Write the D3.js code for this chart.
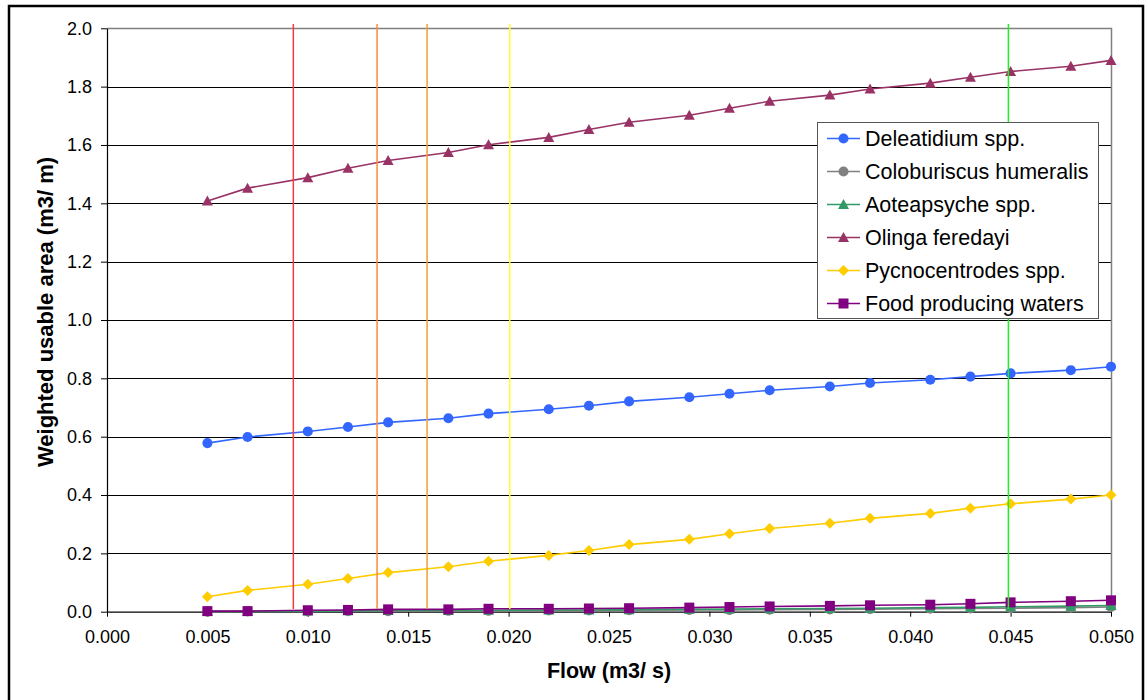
<!DOCTYPE html>
<html>
<head>
<meta charset="utf-8">
<script src="https://cdn.jsdelivr.net/npm/d3@7"></script>
<style>
  html, body { margin: 0; padding: 0; background: #fff; }
  svg { display: block; font-family: "Liberation Sans", Arial, sans-serif; }
</style>
</head>
<body>
<svg id="chart" width="1146" height="700"></svg>
<script>
// ---- Data ----
const flows = [0.005, 0.007, 0.010, 0.012, 0.014, 0.017, 0.019, 0.022, 0.024, 0.026,
               0.029, 0.031, 0.033, 0.036, 0.038, 0.041, 0.043, 0.045, 0.048, 0.050];
const seriesNames = ["Deleatidium spp.", "Coloburiscus humeralis", "Aoteapsyche spp.",
                     "Olinga feredayi", "Pycnocentrodes spp.", "Food producing waters"];
const deleatidium   = [0.578, 0.599, 0.618, 0.633, 0.649, 0.663, 0.679, 0.694, 0.706, 0.721,
                       0.735, 0.747, 0.759, 0.772, 0.784, 0.795, 0.806, 0.817, 0.828, 0.840];
const coloburiscus  = [0.000, 0.001, 0.001, 0.002, 0.002, 0.003, 0.003, 0.004, 0.004, 0.005,
                       0.006, 0.006, 0.007, 0.008, 0.009, 0.010, 0.011, 0.012, 0.014, 0.016];
const aoteapsyche   = [0.001, 0.001, 0.002, 0.003, 0.004, 0.004, 0.005, 0.006, 0.006, 0.007,
                       0.008, 0.009, 0.010, 0.011, 0.012, 0.014, 0.015, 0.017, 0.019, 0.021];
const olinga        = [1.408, 1.452, 1.488, 1.520, 1.547, 1.574, 1.601, 1.626, 1.653, 1.678,
                       1.702, 1.726, 1.750, 1.771, 1.792, 1.812, 1.832, 1.852, 1.870, 1.890];
const pycnocentrodes= [0.051, 0.073, 0.094, 0.114, 0.134, 0.154, 0.173, 0.193, 0.210, 0.230,
                       0.248, 0.267, 0.285, 0.303, 0.320, 0.337, 0.355, 0.370, 0.386, 0.400];
const foodWaters    = [0.002, 0.002, 0.005, 0.006, 0.008, 0.008, 0.010, 0.010, 0.011, 0.012,
                       0.014, 0.016, 0.018, 0.020, 0.022, 0.024, 0.027, 0.032, 0.036, 0.039];
const refFlows      = [0.00928, 0.01345, 0.01594, 0.02006, 0.04489];
const refLineRange  = [0.009, 2.015];
const xTicks = [0, 0.005, 0.010, 0.015, 0.020, 0.025, 0.030, 0.035, 0.040, 0.045, 0.050];
const yTicks = [0, 0.2, 0.4, 0.6, 0.8, 1.0, 1.2, 1.4, 1.6, 1.8, 2.0];
const xTitle = "Flow (m3/ s)";
const yTitle = "Weighted usable area (m3/ m)";

// ---- Styles ----
const colors  = ["#3366FF", "#808080", "#339966", "#993366", "#FFCC00", "#800080"];
const markers = ["circle", "circle", "triangle", "triangle", "diamond", "square"];
const refColors = ["#F43C3C", "#FF8838", "#F0A030", "#FFFF33", "#22EE22"];
const seriesValues = [deleatidium, coloburiscus, aoteapsyche, olinga, pycnocentrodes, foodWaters];

const svg = d3.select("#chart");
const L = 107, R = 1111, T = 28.3, B = 611.7;
const x = d3.scaleLinear().domain([0, 0.05]).range([L, R]);
const y = d3.scaleLinear().domain([0, 2]).range([B, T]);

// Outer frame
svg.append("rect").attr("x", 9).attr("y", 6).attr("width", 1134).attr("height", 700)
  .attr("fill", "#fff").attr("stroke", "#000").attr("stroke-width", 2.5);

// Gridlines
svg.append("g").selectAll("line").data(yTicks.filter(v => v > 0 && v < 2)).join("line")
  .attr("x1", L).attr("x2", R)
  .attr("y1", d => Math.round(y(d)) + 0.5).attr("y2", d => Math.round(y(d)) + 0.5)
  .attr("stroke", "#000").attr("stroke-width", 1);

// Plot border top & right (gray)
svg.append("path")
  .attr("d", `M${L},${Math.round(T)+0.5}H${Math.round(R)+0.5}V${B}`)
  .attr("fill", "none").attr("stroke", "#808080").attr("stroke-width", 1.5);

// Axes
const fmtX = d3.format(".3f"), fmtY = d3.format(".1f");
const xAxis = svg.append("g").attr("transform", `translate(0,${B})`)
  .call(d3.axisBottom(x).tickValues(xTicks).tickFormat(fmtX).tickSize(5).tickSizeOuter(0).tickPadding(14));
const yAxis = svg.append("g").attr("transform", `translate(${L},0)`)
  .call(d3.axisLeft(y).tickValues(yTicks).tickFormat(fmtY).tickSize(6).tickSizeOuter(0).tickPadding(9));
[xAxis, yAxis].forEach(a => {
  a.selectAll("path.domain").attr("stroke", "#000").attr("stroke-width", 1.2);
  a.selectAll(".tick line").attr("stroke", "#000");
  a.selectAll(".tick text").attr("fill", "#000")
    .style("font-family", '"Liberation Sans", Arial, sans-serif').style("font-size", "18px");
});

// Series
const line = d3.line().x((d, i) => x(flows[i])).y(d => y(d));
function markerPath(type) {
  if (type === "circle") return d3.symbol(d3.symbolCircle, 80)();
  if (type === "triangle") return "M0,-5.5L5.5,4.5L-5.5,4.5Z";
  if (type === "diamond") return "M0,-5.5L5.5,0L0,5.5L-5.5,0Z";
  if (type === "square") return "M-5,-5H5V5H-5Z";
}
seriesValues.forEach((vals, s) => {
  const g = svg.append("g");
  g.append("path").attr("d", line(vals)).attr("fill", "none")
    .attr("stroke", colors[s]).attr("stroke-width", 1.6);
  g.selectAll("path.m").data(vals).join("path").attr("class", "m")
    .attr("transform", (d, i) => `translate(${x(flows[i])},${y(d)})`)
    .attr("d", markerPath(markers[s])).attr("fill", colors[s]);
});

// Reference flow lines
svg.append("g").selectAll("line").data(refFlows).join("line")
  .attr("x1", d => x(d)).attr("x2", d => x(d))
  .attr("y1", y(refLineRange[1])).attr("y2", y(refLineRange[0]))
  .attr("stroke", (d, i) => refColors[i]).attr("stroke-width", 1.5);

// Axis titles
svg.append("text").attr("x", (L + R) / 2).attr("y", 678).attr("text-anchor", "middle")
  .style("font-weight", "bold").style("font-size", "21.5px").text(xTitle);
svg.append("text").attr("transform", `translate(53,312) rotate(-90)`)
  .attr("text-anchor", "middle").style("font-weight", "bold").style("font-size", "22px").text(yTitle);

// Legend
const lg = svg.append("g");
lg.append("rect").attr("x", 817.5).attr("y", 122.5).attr("width", 281).attr("height", 196)
  .attr("fill", "#fff").attr("stroke", "#555").attr("stroke-width", 1);
seriesNames.forEach((name, s) => {
  const cy = 138.5 + s * 33;
  lg.append("line").attr("x1", 827).attr("x2", 860).attr("y1", cy).attr("y2", cy)
    .attr("stroke", colors[s]).attr("stroke-width", 1.6);
  lg.append("path").attr("transform", `translate(843.5,${cy})`)
    .attr("d", markerPath(markers[s])).attr("fill", colors[s]);
  lg.append("text").attr("x", 865).attr("y", cy).attr("dy", "0.36em")
    .style("font-size", "21.5px").attr("fill", "#000").text(name);
});
</script>
</body>
</html>
